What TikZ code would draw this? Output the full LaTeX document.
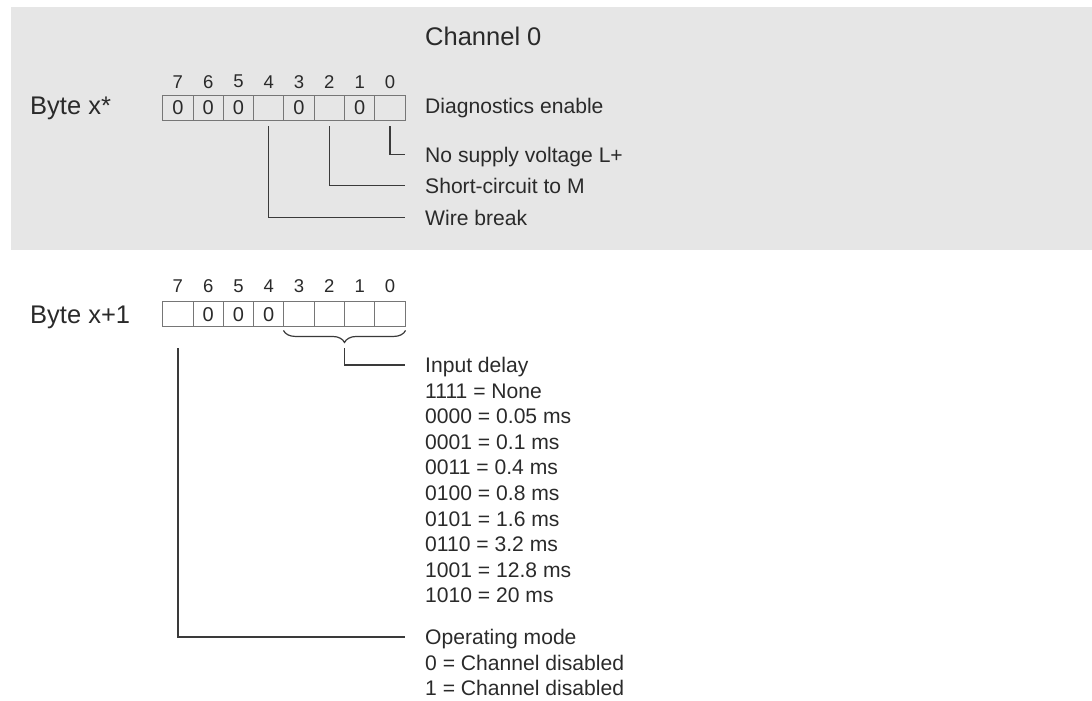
\documentclass[tikz,border=0pt]{standalone}
\usepackage{fontspec}
\setmainfont{Liberation Sans}
\usetikzlibrary{calc, positioning, decorations.pathreplacing}
\definecolor{DiagBand}{HTML}{E6E6E6}
\definecolor{DiagText}{HTML}{2A2A2A}
\definecolor{DiagLine}{HTML}{3A3A3A}
\definecolor{DiagBox}{HTML}{767676}
\tikzset{
  bitcell/.style={draw=DiagBox, line width=0.9pt, minimum width=30.3pt,
    minimum height=25pt, inner sep=0pt, font=\fontsize{20}{24}\selectfont, text=DiagText},
  bitnum/.style={font=\fontsize{18.5}{22}\selectfont, text=DiagText, inner sep=0pt},
  title/.style={font=\fontsize{25.5}{30}\selectfont, text=DiagText, inner sep=0pt,
    anchor=west, text height=18.2pt, text depth=0pt},
  desc/.style={font=\fontsize{21.1}{25.6}\selectfont, text=DiagText, inner sep=0pt,
    anchor=west, text height=15.1pt, text depth=0pt},
  conn/.style={draw=DiagLine, line width=1.3pt},
}

\begin{document}
\begin{tikzpicture}[x=1pt, y=1pt]
\useasboundingbox (0,0) rectangle (1092,-701);
% Grey band of channel 0
\fill[DiagBand] (11,-7) rectangle (1092,-250);
\node[title] (chan) at (425,-36.7) {Channel 0};
% Byte x*
\node[title] (bytea) at (30,-105) {Byte x*};
\foreach \i/\v in {7/0, 6/0, 5/0, 4/{}, 3/0, 2/{}, 1/0, 0/{}} {
  \node[bitcell] (a\i) at ({177.85+30.3*(7-\i)},-107.5) {\v};
  \node[bitnum] (na\i) at ({177.85+30.3*(7-\i)},-81.7) {\i};
}
\node[desc] (diag) at (425,-105.5) {Diagnostics enable};
\node[desc] (nosup) at (425,-154.5) {No supply voltage L+};
\node[desc] (short) at (425,-185.5) {Short-circuit to M};
\node[desc] (wire) at (425,-217.5) {Wire break};
\draw[conn] ([yshift=-6pt]a0.south) |- ([xshift=-20pt]nosup.west);
\draw[conn] ([yshift=-6pt]a2.south) |- ([xshift=-20pt]short.west);
\draw[conn] ([yshift=-6pt]a4.south) |- ([xshift=-20pt]wire.west);
% Byte x+1
\node[title] (byteb) at (30,-314) {Byte x+1};
\foreach \i/\v in {7/{}, 6/0, 5/0, 4/0, 3/{}, 2/{}, 1/{}, 0/{}} {
  \node[bitcell] (b\i) at ({177.85+30.3*(7-\i)},-314.2) {\v};
  \node[bitnum] (nb\i) at ({177.85+30.3*(7-\i)},-286) {\i};
}
\draw[DiagLine, line width=1.2pt, decorate, decoration={brace, mirror, amplitude=12pt}]
  ([yshift=-3.3pt]b3.south west) -- ([yshift=-3.3pt]b0.south east);
% Input delay
\node[desc] (delay) at (425,-365) {Input delay};
\foreach \t [count=\k] in {1111 = None, 0000 = 0.05 ms, 0001 = 0.1 ms,
    0011 = 0.4 ms, 0100 = 0.8 ms, 0101 = 1.6 ms, 0110 = 3.2 ms,
    1001 = 12.8 ms, 1010 = 20 ms}
  \node[desc] (delay\k) at (425,{-365-25.6*\k}) {\t};
\draw[conn] ([yshift=-21.3pt]$(b3.south west)!0.5!(b0.south east)$)
  |- ([xshift=-20pt]delay.west);
% Operating mode
\node[desc] (opmode) at (425,-637) {Operating mode};
\node[desc] (opmode1) at (425,-662.6) {0 = Channel disabled};
\node[desc] (opmode2) at (425,-688.2) {1 = Channel disabled};
\draw[conn] ([yshift=-21.3pt]b7.south) |- ([xshift=-20pt]opmode.west);
\end{tikzpicture}
\end{document}
